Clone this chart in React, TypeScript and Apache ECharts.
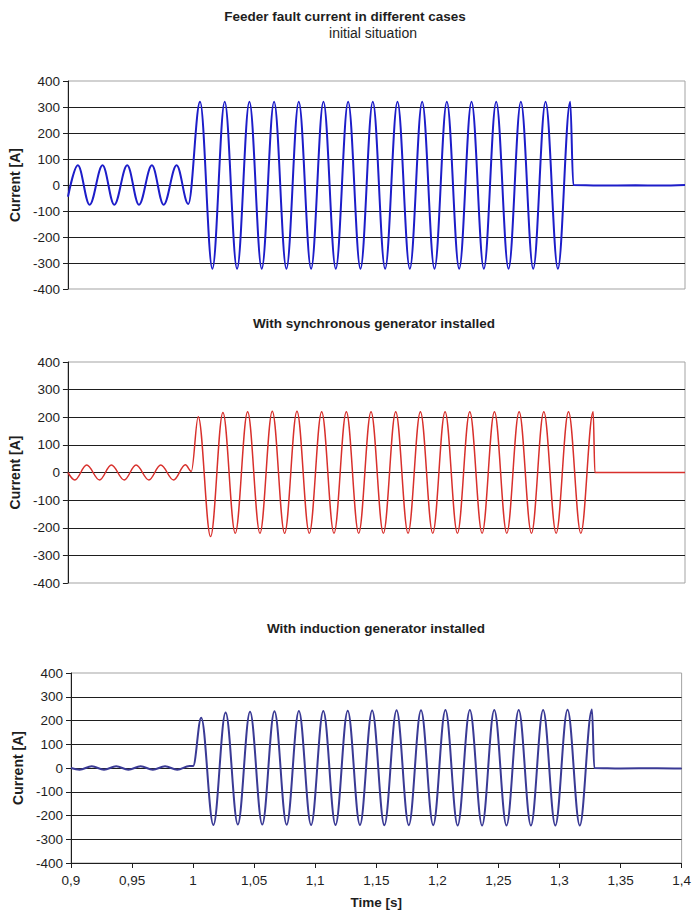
import React, { useEffect, useRef } from "react";
import * as echarts from "echarts";

type Sample = [number, number]; // [time s, current A]

// Axis ranges and ticks
const TIME_MIN = 0.9;
const TIME_MAX = 1.4;
const TIME_STEP = 0.05;
const CURRENT_MIN = -400;
const CURRENT_MAX = 400;
const CURRENT_STEP = 100;

// Texts
const chartTitle = "Feeder fault current in different cases";
const panelTitles = [
  "initial situation",
  "With synchronous generator installed",
  "With induction generator installed",
];
const currentAxisName = "Current [A]";
const timeAxisName = "Time [s]";

// Peaks, troughs and switching instants of the feeder current in each case
const initialCase: Sample[] = [
  [0.9, -45],
  [0.908, 76], [0.9175, -76], [0.928, 76], [0.9375, -76], [0.948, 76],
  [0.9575, -76], [0.968, 76], [0.9775, -76], [0.988, 76], [0.9975, -73],
  [1.007, 320], [1.017, -322], [1.027, 320], [1.037, -322], [1.047, 320],
  [1.057, -322], [1.067, 320], [1.077, -322], [1.087, 320], [1.097, -322],
  [1.107, 320], [1.117, -322], [1.127, 320], [1.137, -322], [1.147, 320],
  [1.157, -322], [1.167, 320], [1.177, -322], [1.187, 320], [1.197, -322],
  [1.207, 320], [1.217, -322], [1.227, 320], [1.237, -322], [1.247, 320],
  [1.257, -322], [1.267, 320], [1.277, -322], [1.287, 320], [1.297, -322],
  [1.307, 320],
  [1.3095, 0], [1.33, -2], [1.36, -1], [1.38, -2], [1.4, 0],
];

const synchronousCase: Sample[] = [
  [0.9, 0],
  [0.9056, -27], [0.9152, 27], [0.9256, -27], [0.9352, 27], [0.9456, -27],
  [0.9552, 27], [0.9656, -27], [0.9752, 27], [0.9856, -27], [0.9952, 28],
  [1.0, 4],
  [1.0056, 202], [1.0156, -232], [1.0256, 217], [1.0356, -220], [1.0456, 220],
  [1.0556, -220], [1.0656, 222], [1.0756, -220], [1.0856, 222], [1.0956, -220],
  [1.1056, 220], [1.1156, -220], [1.1256, 220], [1.1356, -220], [1.1456, 220],
  [1.1556, -220], [1.1656, 220], [1.1756, -220], [1.1856, 220], [1.1956, -220],
  [1.2056, 220], [1.2156, -220], [1.2256, 220], [1.2356, -220], [1.2456, 220],
  [1.2556, -220], [1.2656, 220], [1.2756, -220], [1.2856, 220], [1.2956, -220],
  [1.3056, 220], [1.3156, -220], [1.3256, 220],
  [1.327, 0], [1.4, 0],
];

const inductionCase: Sample[] = [
  [0.9, 0],
  [0.907, -7], [0.917, 7], [0.927, -7], [0.937, 7], [0.947, -7],
  [0.957, 7], [0.967, -7], [0.977, 7], [0.987, -7], [0.997, 8],
  [1.0, 8],
  [1.0066, 212], [1.0166, -240], [1.0266, 234], [1.0366, -238], [1.0466, 237],
  [1.0566, -238], [1.0666, 239], [1.0766, -239], [1.0866, 240], [1.0966, -240],
  [1.1066, 240], [1.1166, -240], [1.1266, 241], [1.1366, -240], [1.1466, 242],
  [1.1566, -241], [1.1666, 243], [1.1766, -241], [1.1866, 243], [1.1966, -241],
  [1.2066, 244], [1.2166, -242], [1.2266, 244], [1.2366, -242], [1.2466, 244],
  [1.2566, -242], [1.2666, 244], [1.2766, -242], [1.2866, 244], [1.2966, -242],
  [1.3066, 245], [1.3166, -242], [1.3266, 246],
  [1.3285, 0], [1.35, -2], [1.38, -1], [1.4, -2],
];

const caseSeries = [initialCase, synchronousCase, inductionCase];
const caseColors = ["#1d1dc9", "#d8302c", "#3a3a95"];
const caseWidths = [2, 1.5, 2];

// Plot-area placement of the three stacked panels
const panelGrids = [
  { left: 68, right: 9, top: 81, height: 208, nameGap: 41 },
  { left: 60, right: 9, top: 362, height: 221, nameGap: 38 },
  { left: 71, right: 9, top: 673, height: 191, nameGap: 44 },
];

const FONT = "'Liberation Sans', Arial, Helvetica, sans-serif";
const INK = "#1e1e1e";

function formatTime(v: number): string {
  return String(Number(v.toFixed(2))).replace(".", ",");
}

export default function App() {
  const ref = useRef<HTMLDivElement>(null);

  useEffect(() => {
    document.body.style.margin = "0";
    if (!ref.current) return;
    const chart = echarts.init(ref.current, undefined, { renderer: "svg" });

    const last = panelGrids.length - 1;

    const option: echarts.EChartsCoreOption = {
      animation: false,
      backgroundColor: "#ffffff",
      textStyle: { fontFamily: FONT },
      grid: panelGrids.map((g) => ({
        left: g.left,
        right: g.right,
        top: g.top,
        height: g.height,
        show: true,
        borderColor: "#a3a3a3",
        borderWidth: 1,
        backgroundColor: "#ffffff",
        containLabel: false,
      })),
      xAxis: panelGrids.map((_, i) => ({
        type: "value",
        gridIndex: i,
        min: TIME_MIN,
        max: TIME_MAX,
        interval: TIME_STEP,
        show: i === last,
        name: i === last ? timeAxisName : "",
        nameLocation: "middle",
        nameGap: 32,
        nameTextStyle: { fontFamily: FONT, fontWeight: "bold", fontSize: 13.5, color: INK },
        axisLine: { show: true, onZero: false, lineStyle: { color: INK, width: 1 } },
        axisTick: { show: true, length: 5, lineStyle: { color: INK } },
        axisLabel: {
          fontFamily: FONT,
          fontSize: 13.5,
          color: INK,
          margin: 10,
          formatter: (v: number) => formatTime(v),
        },
        splitLine: { show: false },
      })),
      yAxis: panelGrids.map((g, i) => ({
        type: "value",
        gridIndex: i,
        min: CURRENT_MIN,
        max: CURRENT_MAX,
        interval: CURRENT_STEP,
        name: currentAxisName,
        nameLocation: "middle",
        nameRotate: 90,
        nameGap: g.nameGap,
        nameTextStyle: { fontFamily: FONT, fontWeight: "bold", fontSize: 14, color: INK },
        axisLine: { show: true, onZero: false, lineStyle: { color: INK, width: 1 } },
        axisTick: { show: true, length: 5, lineStyle: { color: INK } },
        axisLabel: { fontFamily: FONT, fontSize: 13.5, color: INK, margin: 8 },
        splitLine: {
          show: true,
          showMinLine: false,
          showMaxLine: false,
          lineStyle: { color: INK, width: 1 },
        },
      })),
      series: caseSeries.map((data, i) => ({
        type: "line",
        xAxisIndex: i,
        yAxisIndex: i,
        data,
        symbol: "none",
        showSymbol: false,
        smooth: 0.36,
        smoothMonotone: "x",
        clip: true,
        lineStyle: { color: caseColors[i], width: caseWidths[i] },
        emphasis: { disabled: true },
        z: 3,
      })),
      graphic: [
        {
          type: "text",
          x: 345,
          y: 16,
          style: {
            text: chartTitle,
            fontFamily: FONT,
            fontWeight: "bold",
            fontSize: 13.5,
            fill: INK,
            textAlign: "center",
            textVerticalAlign: "middle",
          },
        },
        {
          type: "text",
          x: 373,
          y: 33,
          style: {
            text: panelTitles[0],
            fontFamily: FONT,
            fontSize: 14,
            fill: INK,
            textAlign: "center",
            textVerticalAlign: "middle",
          },
        },
        {
          type: "text",
          x: 374,
          y: 323,
          style: {
            text: panelTitles[1],
            fontFamily: FONT,
            fontWeight: "bold",
            fontSize: 13.5,
            fill: INK,
            textAlign: "center",
            textVerticalAlign: "middle",
          },
        },
        {
          type: "text",
          x: 376,
          y: 628,
          style: {
            text: panelTitles[2],
            fontFamily: FONT,
            fontWeight: "bold",
            fontSize: 13.5,
            fill: INK,
            textAlign: "center",
            textVerticalAlign: "middle",
          },
        },
      ],
    };

    chart.setOption(option);
    return () => {
      chart.dispose();
    };
  }, []);

  return (
    <div
      ref={ref}
      style={{ position: "absolute", left: 0, top: 0, width: 694, height: 910 }}
    />
  );
}
